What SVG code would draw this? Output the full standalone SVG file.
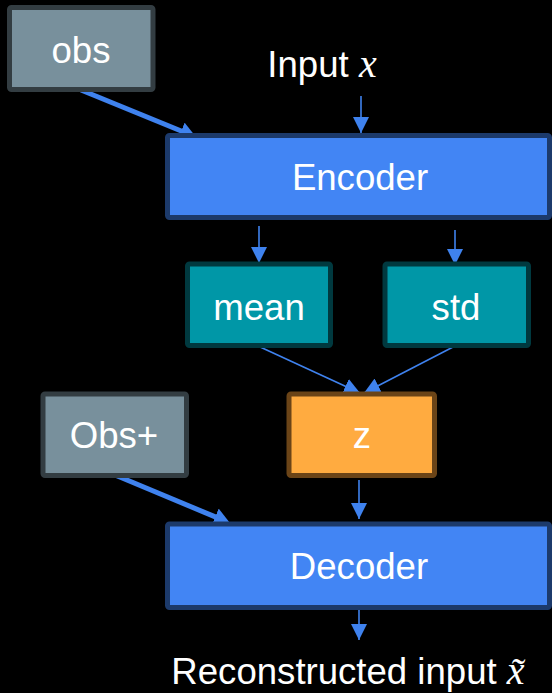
<svg xmlns="http://www.w3.org/2000/svg" width="552" height="693" viewBox="0 0 552 693">
<defs>
<style>
.lbl{font-family:"Liberation Sans",Arial,sans-serif;font-size:36.6px;fill:#ffffff;text-anchor:middle}
.math{font-family:"Liberation Serif","Times New Roman",serif;font-style:italic;font-size:40px}
.gray{fill:#78909c;stroke:#333d42;stroke-width:5}
.blue{fill:#4285f4;stroke:#1c3a6b;stroke-width:5}
.teal{fill:#0097a7;stroke:#00393f;stroke-width:5}
.orange{fill:#ffab40;stroke:#6b4417;stroke-width:5}
.thin{stroke:#3f82ee;stroke-width:1.6;fill:none;marker-end:url(#head)}
.thick{stroke:#3f82ee;stroke-width:5;fill:none;marker-end:url(#headThick)}
</style>
<marker id="head" markerUnits="userSpaceOnUse" markerWidth="16" markerHeight="16" refX="16" refY="8" orient="auto">
<path d="M0,0 L16,8 L0,16 z" fill="#3f82ee"/>
</marker>
<marker id="headThick" markerUnits="userSpaceOnUse" markerWidth="16" markerHeight="18" refX="4" refY="9" orient="auto">
<path d="M0,0 L16,9 L0,18 z" fill="#3f82ee"/>
</marker>
</defs>
<rect width="552" height="693" fill="#000000"/>
<g id="connectors">
<line class="thick" x1="81" y1="90" x2="184.9" y2="132.5"/>
<line class="thin" x1="361" y1="96" x2="361" y2="133"/>
<line class="thin" x1="259" y1="226" x2="259" y2="263"/>
<line class="thin" x1="455" y1="230" x2="455" y2="265"/>
<line class="thin" x1="258" y1="346" x2="360" y2="393"/>
<line class="thin" x1="455" y1="346" x2="364" y2="393"/>
<line class="thick" x1="115" y1="475" x2="218.9" y2="518.4"/>
<line class="thin" x1="359" y1="480" x2="359" y2="519"/>
<line class="thin" x1="359" y1="610" x2="359" y2="640"/>
</g>
<g id="obs">
<rect class="gray" x="9.5" y="7.5" width="143.5" height="82" rx="2"/>
<text class="lbl" x="81" y="63">obs</text>
</g>
<g id="input">
<text class="lbl" x="322" y="77">Input <tspan class="math">x</tspan></text>
</g>
<g id="encoder">
<rect class="blue" x="167.5" y="135.5" width="382" height="82" rx="2"/>
<text class="lbl" x="360" y="190">Encoder</text>
</g>
<g id="mean">
<rect class="teal" x="187.5" y="264" width="143" height="81.5" rx="2"/>
<text class="lbl" x="259" y="320">mean</text>
</g>
<g id="std">
<rect class="teal" x="385" y="264" width="143.5" height="81.5" rx="2"/>
<text class="lbl" x="456" y="320">std</text>
</g>
<g id="z">
<rect class="orange" x="289" y="394" width="145.5" height="81.5" rx="2"/>
<text class="lbl" x="362" y="448">z</text>
</g>
<g id="obsplus">
<rect class="gray" x="43" y="394" width="143.5" height="81.5" rx="2"/>
<text class="lbl" x="114" y="448">Obs+</text>
</g>
<g id="decoder">
<rect class="blue" x="167.5" y="524" width="382" height="83.5" rx="2"/>
<text class="lbl" x="359" y="579">Decoder</text>
</g>
<g id="output">
<text class="lbl" x="348" y="684">Reconstructed input <tspan class="math">x̃</tspan></text>
</g>
</svg>
